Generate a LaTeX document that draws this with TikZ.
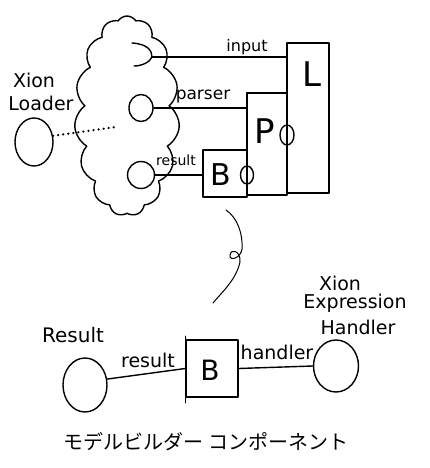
\documentclass[tikz,border=0pt]{standalone}
\usepackage{fontspec}
\setmainfont{DejaVu Sans}
\newfontfamily\jpfont{Noto Sans CJK JP}
\usetikzlibrary{shapes.symbols,shapes.geometric}
\begin{document}
\begin{tikzpicture}[x=1pt,y=-1pt,
  ink/.style={line width=1.4pt, line cap=round, line join=round},
  ball/.style={ellipse, draw, ink, inner sep=0pt},
  portball/.style={ellipse, draw, ink, inner sep=0pt},
  box/.style={rectangle, draw, ink, inner sep=0pt},
  lbl/.style={inner sep=0pt, font=\fontsize{#1}{#1}\selectfont},
  lbl/.default=17]
\useasboundingbox (0,0) rectangle (430,468);

% cloud
\node[cloud, draw, ink, cloud puffs=15, cloud puff arc=115, cloud ignores aspect,
      minimum width=105, minimum height=200, inner sep=0pt] (cloud) at (127,116) {};

% Xion Loader
\node[lbl=19] (xl1) at (34,80) {Xion};
\node[lbl=19] (xl2) at (41,103) {Loader};
\node[ball, minimum width=38, minimum height=48] (loader) at (34,142) {};
\coordinate (ldend) at (116,127);
\draw[line width=2.4pt, line cap=round, dash pattern=on 0.1pt off 5pt] (loader.18) -- (ldend);

% boxes L, P, B
\node[box, minimum width=42, minimum height=150] (L) at (308,118) {};
\node[box, minimum width=40, minimum height=102] (P) at (267,144) {};
\node[box, minimum width=44, minimum height=47] (B) at (225,173.5) {};
\node[lbl=34] (Ltxt) at (312,74) {L};
\node[lbl=34] (Ptxt) at (265,131) {P};
\node[lbl=30] (Btxt) at (221,175) {B};

% ports on shared edges
\node[portball, minimum width=14, minimum height=20] (pport) at (287,135) {};
\node[portball, minimum width=13, minimum height=18] (bport) at (247,175) {};

% socket (input)
\coordinate (socket) at (152,57);
\draw[ink] (132,43) .. controls (148,44) and (152,51) .. (socket)
                    .. controls (150,62) and (142,66) .. (134,66);
\draw[ink] (socket) -- (L.west |- socket);
\node[lbl=16] (inputtxt) at (247,47) {input};

% parser
\node[ball, minimum width=24, minimum height=27] (parsercirc) at (141,108) {};
\draw[ink] (parsercirc.east) -- (parsercirc.east -| P.west);
\node[lbl=17] (parsertxt) at (203,97) {parser};

% result
\node[ball, minimum width=27, minimum height=27] (resultcirc) at (141,175) {};
\draw[ink] (resultcirc.east) -- (resultcirc.east -| B.west);
\node[lbl=14] (resulttxt) at (176,160) {result};

% callout squiggle
\coordinate (cs) at (226,210);
\coordinate (ce) at (213,303);
\draw[line width=1pt, line cap=round] (cs) .. controls (238,218) and (243,235) .. (242,249)
   .. controls (241,258) and (229,262) .. (230,255)
   .. controls (231,248) and (241,251) .. (240,262)
   .. controls (236,280) and (222,292) .. (ce);

% bottom part
\node[lbl=20] (Restxt) at (73,335) {Result};
\node[ball, minimum width=44, minimum height=54] (rc) at (85,385) {};
\node[box, minimum width=52, minimum height=57] (B2) at (212,368.5) {};
\draw[ink] (B2.north west) -- ++(0,-3) (B2.south west) -- ++(0,5);
\node[lbl=28] (B2txt) at (210,370) {B};
\node[ball, minimum width=45, minimum height=52] (xeh) at (336,366) {};
\draw[ink] (rc.15) -- (B2.west);
\node[lbl=19] (res2txt) at (148,360) {result};
\draw[ink] (B2.east) -- (xeh.west);
\node[lbl=19] (handtxt) at (277,352) {handler};
\node[lbl=19] (x1) at (340,283) {Xion};
\node[lbl=19] (x2) at (355,303) {Expression};
\node[lbl=19] (x3) at (358,327) {Handler};

\node[inner sep=0pt, font=\jpfont\fontsize{20}{20}\selectfont] (jp) at (206,442) {モデルビルダー\ コンポーネント};
\end{tikzpicture}
\end{document}
